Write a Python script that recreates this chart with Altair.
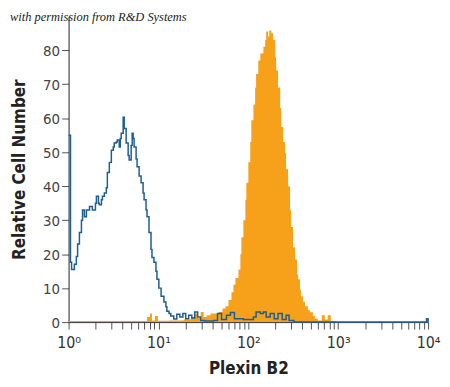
import altair as alt
import pandas as pd

# Isotype control (blue outline histogram)
blue_x = [1.00, 1.05, 1.08, 1.16, 1.22, 1.26, 1.32, 1.39, 1.43, 1.50, 1.58, 1.71, 1.84, 1.99,
          2.04, 2.15, 2.20, 2.32, 2.38, 2.50, 2.63, 2.70, 2.84, 2.99, 3.14, 3.22, 3.39, 3.48,
          3.66, 3.76, 3.85, 4.05, 4.16, 4.37, 4.60, 4.72, 4.97, 5.10, 5.23, 5.36, 5.64, 5.78,
          6.09, 6.41, 6.74, 6.92, 7.27, 7.46, 7.85, 8.26, 8.47, 8.91, 9.38, 9.62, 10.1, 10.7,
          11.5, 12.1, 12.4, 13.1, 13.7, 14.8, 16.0, 17.3, 18.7, 20.1, 21.7, 23.5, 25.3, 27.3,
          29.5, 32.6, 41.0, 45.4, 50.3, 57.1, 63.2, 70.0, 88.0, 114, 122, 136, 147, 158, 175,
          194, 214, 238, 263, 284, 322, 9600, 10000]
blue_y = [55, 17.6, 15.5, 17, 19.3, 23, 26.4, 30, 33, 31, 33, 34, 33, 35,
          37, 35, 34.5, 36, 37, 38, 39.5, 44, 47, 50.6, 51.5, 52.7, 53, 53.6,
          51.5, 54, 55.6, 60.3, 57, 52.7, 49, 47.7, 52, 55.6, 54, 51.5, 48, 45.7,
          43, 41, 38, 36, 33, 31, 26.4, 21.4, 19, 17.6, 15, 12.6, 10, 7.6,
          5.9, 4.5, 3.2, 2.5, 1.8, 0.9, 2.3, 1.5, 2.5, 1, 2, 1.2, 3, 1.5,
          0.5, 0.3, 0.5, 2.5, 0.8, 2, 2.8, 1, 0.8, 1.5, 3, 2.5, 3, 1.5, 2.5,
          1, 2.5, 0.8, 2, 0.5, 0, 1.0, 0]

# Plexin B2 antibody (orange filled histogram)
orange_x = [1.00, 7.46, 8.05, 8.47, 9.15, 9.87, 13.1, 19.1, 22.9, 25.3, 27.3, 29.5, 31.8,
            34.4, 38.0, 42.1, 46.6, 51.6, 55.7, 60.1, 64.9, 68.3, 71.8, 77.6, 81.6, 83.7,
            88.1, 92.7, 95.0, 100, 105, 108, 114, 119, 122, 129, 136, 139, 147, 154, 158,
            166, 171, 180, 189, 199, 204, 214, 226, 232, 244, 256, 263, 277, 291, 299, 314,
            331, 348, 357, 376, 385, 405, 427, 460, 484, 523, 550, 593, 657, 709, 765, 826,
            938, 1000]
orange_y = [0.3, 1.5, 2.5, 0.5, 1.8, 0.4, 0.5, 0.8, 1.5, 2.5, 1.2, 3, 1.5,
            2, 2.5, 2.5, 3, 4, 4.7, 6.5, 8.8, 11, 13, 15.5, 20, 25,
            30, 36, 41, 47, 53, 59.4, 64, 69, 73, 77, 79, 79, 81, 83, 85.5,
            84, 85.8, 85, 83, 78, 74, 69, 63, 57.4, 53, 49.8, 45, 40, 33, 28, 22,
            18.4, 14, 12.6, 9.5, 7.6, 6, 4.7, 3.5, 2.9, 1.8, 1, 0.5, 2, 0.8, 2, 0.3,
            0, 0]

x_ticks = [m * 10 ** e for e in range(4) for m in range(1, 10)] + [10000]
y_ticks = [0, 10, 20, 30, 40, 50, 60, 70, 80]

blue = pd.DataFrame({"x": blue_x, "y": blue_y})
orange = pd.DataFrame({"x": orange_x, "y": orange_y})

FONT = "Liberation Sans Narrow, DejaVu Sans Condensed, sans-serif"

xscale = alt.Scale(type="log", domain=[1, 10000], nice=False)
yscale = alt.Scale(domain=[0, 90], nice=False)

xaxis = alt.Axis(
    title="Plexin B2", values=x_ticks,
    labelExpr="datum.value == 1 ? '10⁰' : datum.value == 10 ? '10¹' : datum.value == 100 ? '10²' : datum.value == 1000 ? '10³' : datum.value == 10000 ? '10⁴' : ''",
    grid=False, tickSize=7, tickColor="#555", domainColor="#333", labelColor="#333",
    labelFont=FONT, labelFontSize=16, labelPadding=6, titleFont=FONT, titleFontSize=17,
    titleFontWeight="bold", titleColor="#222", titlePadding=10, labelFlush=False,
    labelOverlap=False,
)
yaxis = alt.Axis(
    title="Relative Cell Number", values=y_ticks, tickCount=9, grid=False, tickSize=7,
    tickColor="#555", domainColor="#222", labelColor="#444", labelFont=FONT,
    labelFontSize=15, labelPadding=2, titleFont=FONT, titleFontSize=17,
    titleFontWeight="bold", titleColor="#222", titlePadding=14, labelOverlap=False,
)

area = alt.Chart(orange).mark_area(interpolate="step-after", color="#f7a11a", opacity=1).encode(
    x=alt.X("x:Q", scale=xscale, axis=xaxis),
    y=alt.Y("y:Q", scale=yscale, axis=yaxis),
)
line = alt.Chart(blue).mark_line(interpolate="step-after", color="#1f5f8f", strokeWidth=1.5).encode(
    x=alt.X("x:Q", scale=xscale, axis=xaxis),
    y=alt.Y("y:Q", scale=yscale, axis=yaxis),
)
note = alt.Chart(pd.DataFrame({"t": ["with permission from R&D Systems"]})).mark_text(
    align="left", baseline="alphabetic", font="Liberation Serif", fontStyle="italic",
    fontSize=12.5, color="#222"
).encode(x=alt.value(-59), y=alt.value(5), text="t:N")

chart = alt.layer(area, line, note).properties(
    width=362, height=308,
    autosize=alt.AutoSizeParams(type="none"),
    padding={"left": 61, "top": 7, "right": 14, "bottom": 56},
).configure_view(stroke=None)

chart.save("out.html", embed_options={"renderer": "svg", "actions": False})
